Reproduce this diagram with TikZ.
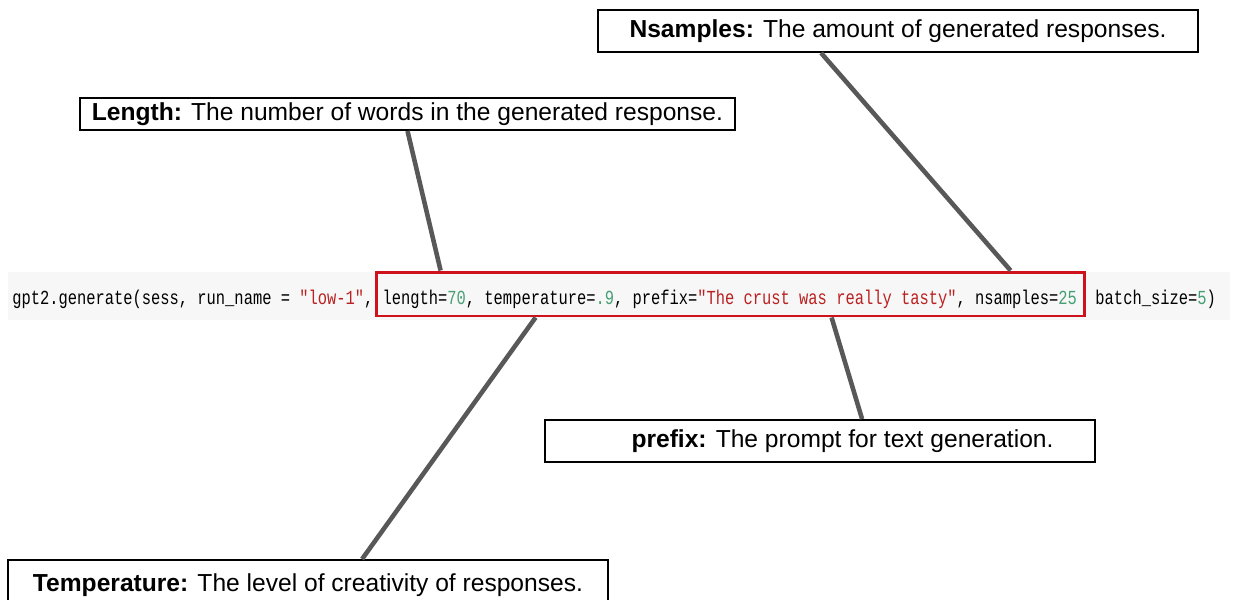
\documentclass[tikz,border=0pt]{standalone}
\usepackage{fontspec}
\setmainfont{Liberation Sans}
\newfontfamily\codefont{Liberation Mono}
\usepackage{xcolor}
\definecolor{code-str}{RGB}{186,33,33}
\definecolor{code-num}{RGB}{70,160,115}
\definecolor{mark-red}{RGB}{206,18,28}
\definecolor{line-gray}{RGB}{88,88,88}
\usetikzlibrary{calc}

\begin{document}
\begin{tikzpicture}[x=0.02cm,y=-0.02cm,
	callout/.style={draw=black,line width=1.1pt,inner sep=0pt,
		font=\fontsize{14}{16}\selectfont},
	pointer/.style={line-gray,line width=2.6pt}]
	\path[use as bounding box,clip] (0,0) rectangle (1237,599);
	
	% code line
	\fill[black!3] (8,272) rectangle (1230,320);
	\node[anchor=base west,inner sep=0pt] (code) at (12,304)
	{\codefont\fontsize{10.8}{12}\selectfont\scalebox{0.813}[1.05]{%
	gpt2.generate(sess, run\_name = \textcolor{code-str}{"low-1"}, %
	length=\textcolor{code-num}{70}, temperature=\textcolor{code-num}{.9}, %
	prefix=\textcolor{code-str}{"The crust was really tasty"}, %
	nsamples=\textcolor{code-num}{25}\phantom{,} batch\_size=\textcolor{code-num}{5})}};
	\node[draw=mark-red,line width=1.7pt,inner sep=0pt,
		minimum width=14.18cm,minimum height=0.88cm] (mark) at (730.5,294) {};
	
	% callouts
	\node[callout,minimum width=12cm,minimum height=0.84cm] (nsbox) at (898,31)
		{\textbf{Nsamples:} The amount of generated responses.};
	\node[callout,minimum width=13.1cm,minimum height=0.64cm] (lenbox) at (407.5,114)
		{\textbf{Length:} The number of words in the generated response.};
	\node[callout,minimum width=11cm,minimum height=0.84cm] (pfbox) at (820,441)
		{\hspace*{0.9cm}\textbf{prefix:} The prompt for text generation.};
	\node[callout,minimum width=12cm,minimum height=1cm] (tempbox) at (308,585)
		{\textbf{Temperature:} The level of creativity of responses.};
	
	\coordinate (len-in)  at ($(mark.north west)+(66,0)$);
	\coordinate (ns-in)   at ($(mark.north west)+(636,0)$);
	\coordinate (temp-in) at ($(mark.south west)+(161,0)$);
	\coordinate (pf-in)   at ($(mark.south west)+(457,0)$);
	\coordinate (ns-out)   at ($(nsbox.south west)+(224,0)$);
	\coordinate (temp-out) at ($(tempbox.north west)+(355,0)$);
	\coordinate (pf-out)   at ($(pfbox.north west)+(318,0)$);
	
	\draw[pointer] (lenbox.south) -- (len-in);
	\draw[pointer] (ns-out) -- (ns-in);
	\draw[pointer] (temp-in) -- (temp-out);
	\draw[pointer] (pf-in) -- (pf-out);
\end{tikzpicture}
\end{document}
